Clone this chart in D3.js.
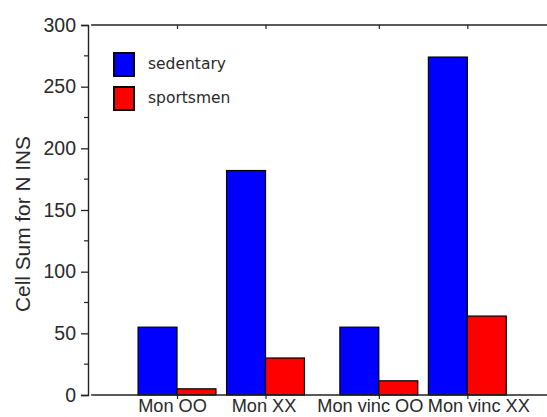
<!DOCTYPE html>
<html><head><meta charset="utf-8">
<script src="https://cdn.jsdelivr.net/npm/d3@7"></script>
<style>body{margin:0;background:#fff}svg{display:block}</style>
</head><body>
<script>
const categories = ["Mon OO", "Mon XX", "Mon vinc OO", "Mon vinc XX"];
const seriesNames = ["sedentary", "sportsmen"];
const sedentary = [55, 182, 55, 274];
const sportsmen = [5, 30, 11.5, 64];
const yTicks = [0, 50, 100, 150, 200, 250, 300];
const colors = ["#0000ff", "#ff0000"];

const W = 547, H = 417;
const svg = d3.select("body").append("svg").attr("width", W).attr("height", H);

// layout: second pair of groups shifted a bit further right
const pos = i => i + 1 + (i >= 2 ? 0.28 : 0);
const labelShift = [-5, -2, -9, 11];
const x = d3.scaleLinear().domain([0, 5.18]).range([88.5, 547]);
const y = d3.scaleLinear().domain([0, 300]).range([395, 25]);
const barW = 0.44;

const series = [sedentary, sportsmen];
series.forEach((vals, s) => {
  svg.append("g").selectAll("rect").data(vals).join("rect")
    .attr("x", (d, i) => s === 0 ? x(pos(i) - barW) : x(pos(i)))
    .attr("width", x(barW) - x(0))
    .attr("y", d => y(d))
    .attr("height", d => y(0) - y(d))
    .attr("fill", colors[s])
    .attr("stroke", "#000").attr("stroke-width", 1.2);
});

const lineCol = "#222";
const txtCol = "#2a2a2a";
// left axis
const yAxis = d3.axisLeft(y).tickValues(yTicks).tickSize(7).tickPadding(5);
const gy = svg.append("g").attr("transform", "translate(88,0)").call(yAxis);
gy.select(".domain").attr("stroke", lineCol).attr("stroke-width", 1.4);
gy.selectAll(".tick line").attr("stroke", lineCol).attr("stroke-width", 1.3);
gy.selectAll(".tick text").attr("font-family", "Liberation Sans, Arial, sans-serif")
  .attr("font-size", 19.5).attr("fill", txtCol);
// minor ticks
const minor = d3.range(25, 300, 50);
svg.append("g").selectAll("line").data(minor).join("line")
  .attr("x1", 84).attr("x2", 88).attr("y1", d => y(d)).attr("y2", d => y(d))
  .attr("stroke", lineCol).attr("stroke-width", 1.2);

// bottom axis
const xb = d3.axisBottom(x).tickValues(categories.map((c, i) => pos(i)))
  .tickFormat((d, i) => categories[i]).tickSize(4).tickPadding(2).tickSizeOuter(0);
const gx = svg.append("g").attr("transform", "translate(0,395)").call(xb);
gx.select(".domain").attr("d", `M${x(0.03)},0H${W}`).attr("stroke", lineCol).attr("stroke-width", 1.4);
gx.selectAll(".tick line").attr("stroke", lineCol).attr("stroke-width", 1.2);
gx.selectAll(".tick text").attr("font-family", "Liberation Sans, Arial, sans-serif")
  .attr("font-size", 18.2).attr("fill", txtCol).attr("dy", "0.6em")
  .attr("dx", (d, i) => labelShift[i]);

// top axis
const xt = d3.axisBottom(x).tickValues(categories.map((c, i) => pos(i)))
  .tickFormat("").tickSize(4).tickSizeOuter(0);
const gt = svg.append("g").attr("transform", "translate(0,25)").call(xt);
gt.select(".domain").attr("d", `M${x(0.03)},0H${W}`).attr("stroke", lineCol).attr("stroke-width", 1.4);
gt.selectAll(".tick line").attr("stroke", lineCol).attr("stroke-width", 1.2);

// y label
svg.append("text").attr("transform", `translate(30,224) rotate(-90)`)
  .attr("text-anchor", "middle").attr("font-family", "Liberation Sans, Arial, sans-serif")
  .attr("font-size", 20.5).attr("fill", txtCol)
  .attr("textLength", 176).attr("lengthAdjust", "spacingAndGlyphs")
  .text("Cell Sum for N INS");

// legend
const lg = svg.append("g").selectAll("g").data(seriesNames).join("g")
  .attr("transform", (d, i) => `translate(114,${53 + i * 34})`);
lg.append("rect").attr("width", 20).attr("height", 23)
  .attr("fill", (d, i) => colors[i]).attr("stroke", "#000").attr("stroke-width", 2);
lg.append("text").attr("x", 34).attr("y", 16)
  .attr("font-family", "DejaVu Sans, Verdana, sans-serif").attr("font-size", 15.5)
  .attr("fill", txtCol).text(d => d);
</script>
</body></html>
